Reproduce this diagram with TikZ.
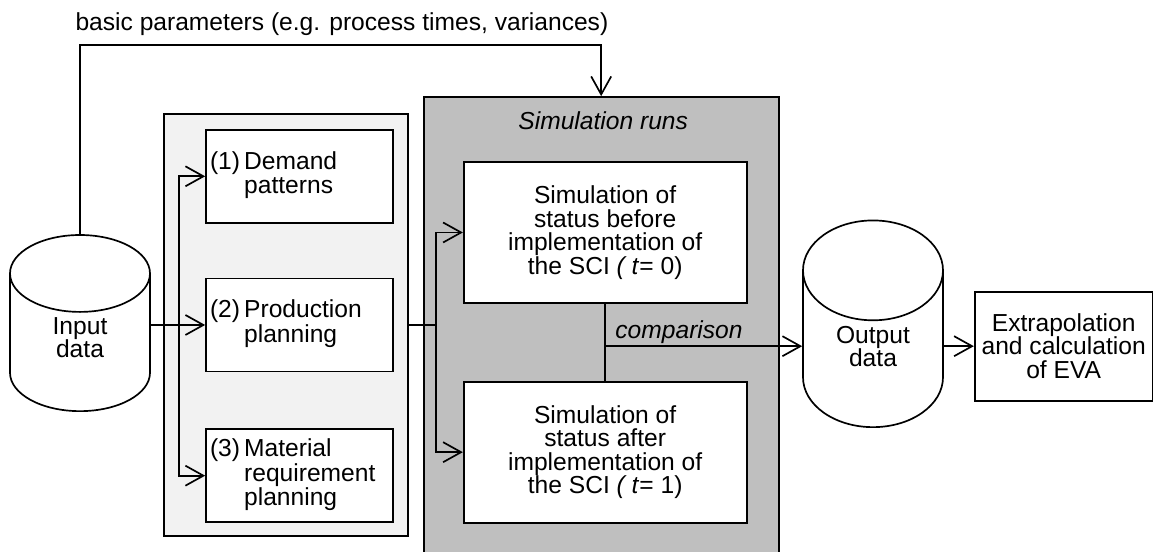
\documentclass[tikz,border=0pt]{standalone}
\usepackage{fontspec}
\setmainfont{Liberation Sans}
\usetikzlibrary{positioning,calc,shapes.geometric,arrows.meta}

\definecolor{planfill}{gray}{0.95}
\definecolor{runfill}{gray}{0.75}
\newcommand{\diagfont}{\fontsize{17.5pt}{16.7pt}\selectfont}
\newcommand{\steplabel}[2]{(#1)\,\begin{tabular}[t]{@{}l@{}}#2\end{tabular}}

\begin{document}
\begin{tikzpicture}[font=\diagfont, line width=1.2pt, >={Straight Barb[length=0.45cm,width=0.5cm]},
    stepbox/.style={rectangle, draw, fill=white, minimum width=4.675cm, minimum height=2.325cm, text width=4.475cm, inner sep=0.1cm, align=left},
    simbox/.style={rectangle, draw, fill=white, minimum width=7.075cm, minimum height=3.525cm, align=center},
    datastore/.style={cylinder, shape border rotate=90, draw, fill=white, aspect=1.2, minimum width=3.5cm, minimum height=4.35cm, text depth=0.6cm, align=center},
    panel/.style={rectangle, draw, minimum width=6.1cm, minimum height=10.55cm}]
        \useasboundingbox (0,0) rectangle (28.825,13.8);
        % Nodes
        \node[anchor=base west] (params) at (1.75,13.025) {basic parameters (e.g. process times, variances)};
        \node[datastore, anchor=south] (input) at (2,3.5) {Input\\data};
        \node[panel, fill=planfill] (planning) at (7.15,5.675) {};
        \node[stepbox] (prod) at ([xshift=0.3375cm]planning.center) {\steplabel{2}{Production\\planning}};
        \node[stepbox, above=1.35cm of prod] (demand) {\steplabel{1}{Demand\\patterns}};
        \node[stepbox, below=1.4cm of prod] (mrp) {\steplabel{3}{Material\\requirement\\planning}};

        \node[panel, fill=runfill, right=0.35cm of planning, minimum width=8.875cm, minimum height=11.4cm] (simruns) {};
        \node[font=\diagfont\itshape] (runslabel) at ([xshift=0.05cm,yshift=-0.625cm]simruns.north) {Simulation runs};
        \node[simbox] (before) at ([xshift=0.1cm,yshift=2.3125cm]simruns.center) {Simulation of\\status before\\implementation of\\the SCI \textit{( t}= 0)};
        \node[simbox, below=1.925cm of before] (after) {Simulation of\\status after\\implementation of\\the SCI \textit{( t}= 1)};
        \coordinate (cmp) at ($(before.south)!0.55!(after.north)$);

        \node[datastore, anchor=south, minimum height=4.175cm] (output) at (21.825,3.1) {Output\\data};
        \node[rectangle, draw, minimum width=4.45cm, minimum height=2.725cm, align=center, inner sep=1pt, anchor=west] (eva) at ([xshift=0.75cm]output.east |- cmp) {Extrapolation\\and calculation\\of EVA};

        % Arrows
        \coordinate[right=0.7cm of input.east |- prod] (fork1);
        \draw[->] (input.east |- prod) -- (prod);
        \draw[->] (fork1) |- (demand);
        \draw[->] (fork1) |- (mrp);

        \coordinate[right=0.675cm of planning.east] (fork2);
        \draw (planning.east) -- (fork2);
        \draw[->] (fork2) |- (before);
        \draw[->] (fork2) |- (after);

        \draw (before) -- (after);
        \draw[->] (cmp) -- node[anchor=south west, pos=0, inner sep=1pt, xshift=0.2cm, font=\diagfont\itshape] {comparison} (cmp -| output.west);
        \draw[->] (output.east |- eva) -- (eva);

        \draw[->] (input.north) -- ++(0,4.725) -| (simruns.north);
\end{tikzpicture}
\end{document}
